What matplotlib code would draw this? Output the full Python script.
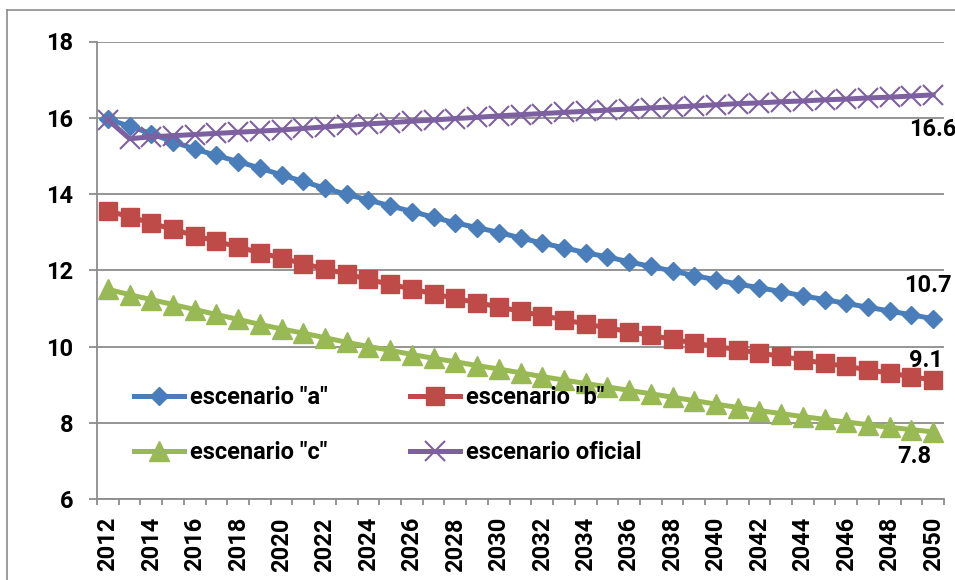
import matplotlib
matplotlib.use("Agg")
import matplotlib.pyplot as plt
from matplotlib.lines import Line2D

plt.rcParams['font.family'] = ['Roboto', 'DejaVu Sans']
plt.rcParams['font.weight'] = 'bold'

years = list(range(2012, 2051))

esc_a = [15.96, 15.78, 15.58, 15.37, 15.18, 15.01, 14.85, 14.68, 14.50, 14.33,
         14.15, 13.99, 13.84, 13.69, 13.54, 13.39, 13.24, 13.12, 12.99, 12.85,
         12.71, 12.59, 12.46, 12.35, 12.22, 12.10, 11.98, 11.86, 11.75, 11.64,
         11.54, 11.44, 11.33, 11.23, 11.13, 11.03, 10.93, 10.83, 10.73]
esc_b = [13.56, 13.40, 13.24, 13.07, 12.91, 12.76, 12.61, 12.46, 12.32, 12.17,
         12.04, 11.90, 11.76, 11.63, 11.51, 11.38, 11.26, 11.15, 11.04, 10.92,
         10.81, 10.70, 10.59, 10.49, 10.39, 10.29, 10.19, 10.09, 10.00, 9.92,
         9.83, 9.74, 9.65, 9.56, 9.48, 9.39, 9.30, 9.21, 9.12]
esc_c = [11.50, 11.36, 11.23, 11.10, 10.97, 10.84, 10.71, 10.58, 10.46, 10.35,
         10.23, 10.11, 10.00, 9.90, 9.79, 9.69, 9.60, 9.50, 9.41, 9.31,
         9.21, 9.12, 9.03, 8.94, 8.85, 8.76, 8.67, 8.58, 8.49, 8.40,
         8.32, 8.24, 8.16, 8.09, 8.02, 7.95, 7.88, 7.82, 7.76]
esc_oficial = [15.95, 15.45, 15.50, 15.53, 15.56, 15.59, 15.62, 15.65, 15.68, 15.72,
               15.76, 15.80, 15.84, 15.87, 15.91, 15.94, 15.98, 16.01, 16.05, 16.08,
               16.11, 16.14, 16.17, 16.20, 16.23, 16.26, 16.28, 16.31, 16.34, 16.37,
               16.39, 16.42, 16.44, 16.47, 16.49, 16.52, 16.54, 16.57, 16.60]

labels = ['escenario "a"', 'escenario "b"', 'escenario "c"', 'escenario oficial']
colors = ['#4A7EBB', '#BE4B48', '#98B954', '#7D60A0']
end_labels = ['10.7', '9.1', '7.8', '16.6']

fig = plt.figure(figsize=(9.55, 5.8), dpi=100)
ax = fig.add_axes([97 / 955, 1 - 499 / 580, 847 / 955, 457.5 / 580])

# frame around the chart area
fig.add_artist(Line2D([7 / 955, 7 / 955], [0, 1 - 10 / 580], color='#8C8C8C', lw=1.2))
fig.add_artist(Line2D([7 / 955, 1], [1 - 10 / 580, 1 - 10 / 580], color='#8C8C8C', lw=1.2))

x = list(range(len(years)))
lw = 3.6
h_a, = ax.plot(x, esc_a, color=colors[0], lw=lw, marker='D', ms=9, mec=colors[0],
               label=labels[0], solid_joinstyle='round')
h_b, = ax.plot(x, esc_b, color=colors[1], lw=lw, marker='s', ms=13.5, mec=colors[1],
               label=labels[1], solid_joinstyle='round')
h_c, = ax.plot(x, esc_c, color=colors[2], lw=lw, marker='^', ms=14, mec=colors[2],
               label=labels[2], solid_joinstyle='round')
h_o, = ax.plot(x, esc_oficial, color=colors[3], lw=lw, marker='x', ms=14, mew=1.5,
               label=labels[3], solid_joinstyle='round')

fs = 17
# value labels at the last year
last = len(years) - 1
ax.annotate(end_labels[0], (last, esc_a[-1]), xytext=(-5, 33), textcoords='offset pixels',
            ha='center', va='center', fontsize=fs, fontweight='bold', annotation_clip=False)
ax.annotate(end_labels[1], (last, esc_b[-1]), xytext=(-7, 20), textcoords='offset pixels',
            ha='center', va='center', fontsize=fs, fontweight='bold', annotation_clip=False)
ax.annotate(end_labels[2], (last, esc_c[-1]), xytext=(-19, -25), textcoords='offset pixels',
            ha='center', va='center', fontsize=fs, fontweight='bold', annotation_clip=False)
ax.annotate(end_labels[3], (last, esc_oficial[-1]), xytext=(0, -35), textcoords='offset pixels',
            ha='center', va='center', fontsize=fs, fontweight='bold', annotation_clip=False)

ax.set_xlim(-0.5, len(years) - 0.5)
ax.set_ylim(6, 18)
ax.set_yticks(range(6, 19, 2))
ax.set_xticks(x[::2])
ax.set_xticklabels([str(y) for y in years[::2]], rotation=90)
ax.set_xticks([i - 0.5 for i in range(len(years) + 1)], minor=True)

ax.grid(axis='y', color='#8C8C8C', lw=1.3)
ax.set_axisbelow(True)
for s in ['top', 'right']:
    ax.spines[s].set_visible(False)
for s in ['left', 'bottom']:
    ax.spines[s].set_color('#8C8C8C')
    ax.spines[s].set_linewidth(1.3)

ax.tick_params(axis='y', length=6, color='#8C8C8C', width=1.3, pad=11, labelsize=fs)
ax.tick_params(axis='x', which='major', length=0, pad=13, labelsize=fs)
ax.tick_params(axis='x', which='minor', length=4, color='#8C8C8C', width=1.3)

# legend filled row by row: a, b / c, oficial
ax.legend([h_a, h_c, h_b, h_o], [labels[0], labels[2], labels[1], labels[3]],
          ncol=2, frameon=False, loc='upper left', bbox_to_anchor=(125 / 955, 1 - 377 / 580),
          bbox_transform=fig.transFigure, fontsize=fs, handlelength=2.1,
          handletextpad=0.25, columnspacing=3.5, labelspacing=1.35, borderaxespad=0)

fig.savefig('out.png', dpi=100)
